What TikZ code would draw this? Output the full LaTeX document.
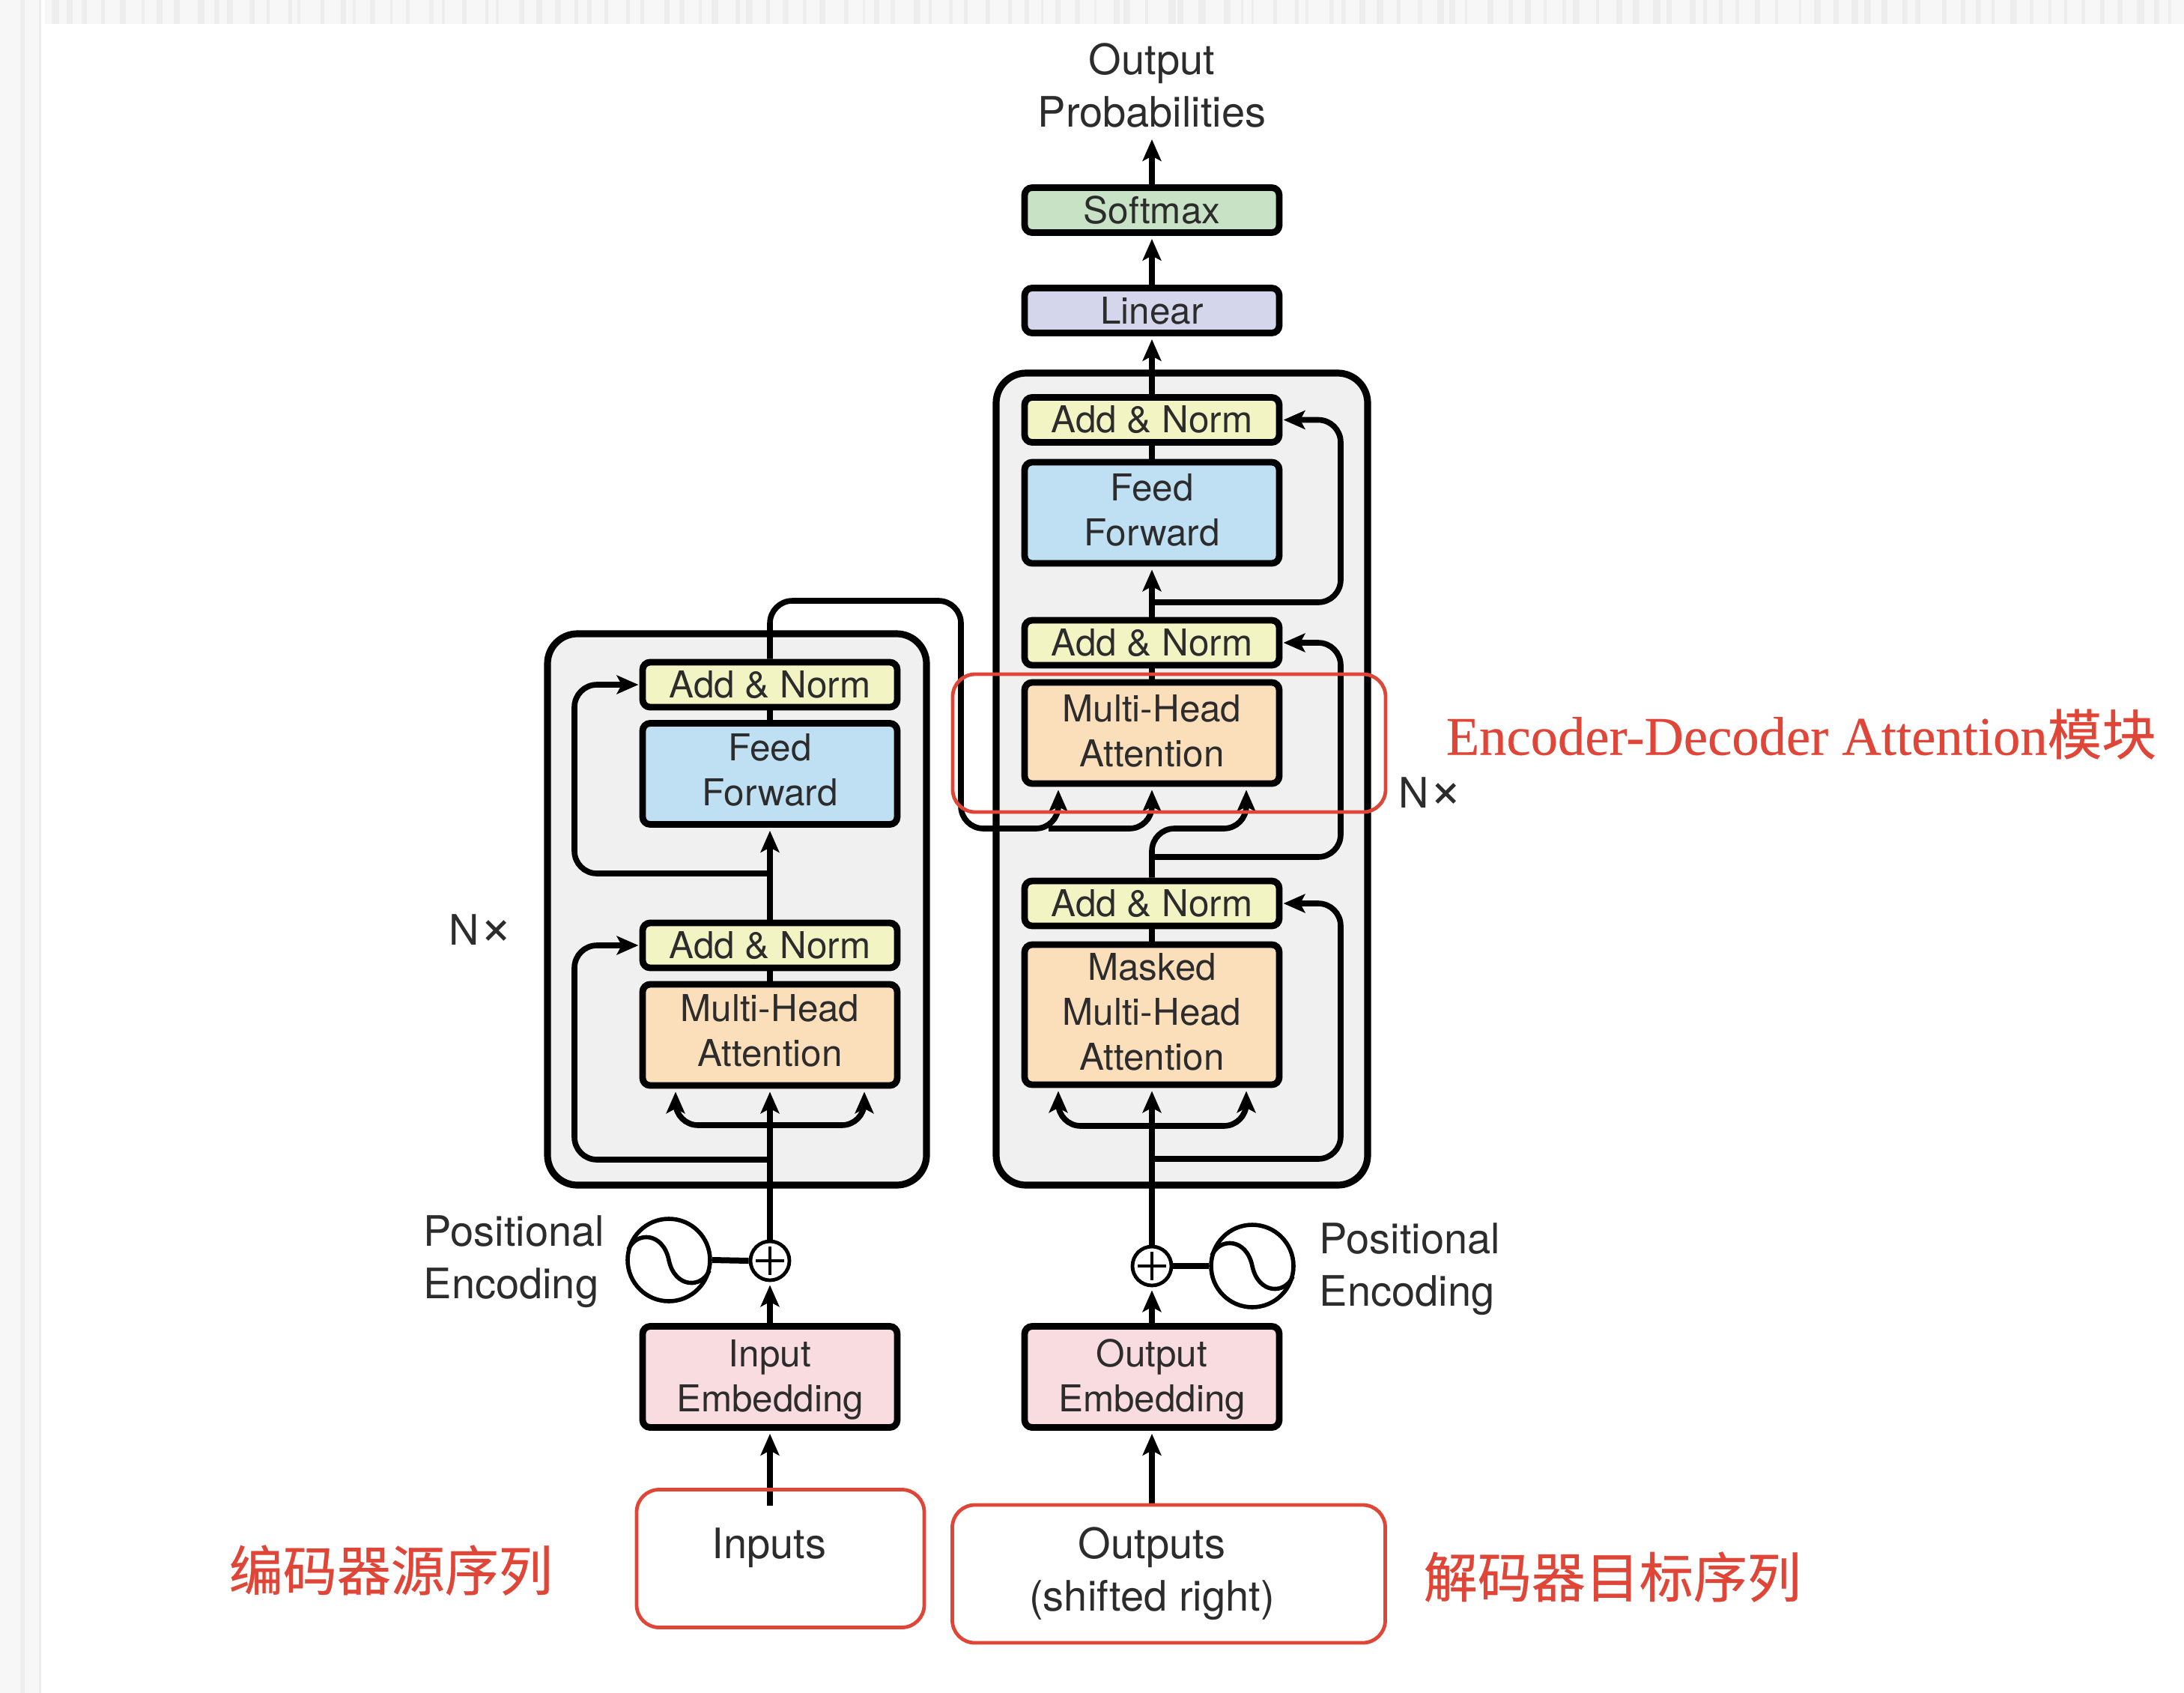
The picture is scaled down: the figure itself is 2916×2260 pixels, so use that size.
\documentclass[tikz,border=0pt]{standalone}
\usepackage{fontspec}
\setmainfont{TeX Gyre Heros}
\newfontfamily\cjkfam[RawFeature={embolden=0.5}]{Noto Sans CJK SC}
\newfontfamily\serfam[RawFeature={embolden=0.3}]{Liberation Serif}
\usetikzlibrary{arrows.meta,calc}
\definecolor{panelc}{HTML}{F0F0F0}
\definecolor{ycol}{HTML}{F3F4C3}
\definecolor{bcol}{HTML}{BFDFF3}
\definecolor{ocol}{HTML}{FBDFBB}
\definecolor{pcol}{HTML}{F8DCDF}
\definecolor{gcol}{HTML}{C8E2C6}
\definecolor{lcol}{HTML}{D4D6EC}
\definecolor{redc}{HTML}{DF4638}
\definecolor{txtc}{HTML}{2C2C2C}
\tikzset{
  blockbox/.style={draw=black,line width=2.2pt,rounded corners=2.5pt,minimum width=85pt,inner sep=0pt,align=center,text=txtc,font=\fontsize{12.35}{15}\selectfont},
  thin box/.style={blockbox,minimum height=15pt},
  tall box/.style={blockbox,minimum height=33.75pt},
  panel/.style={draw=black,line width=2.3pt,fill=panelc,rounded corners=10pt,inner sep=0pt},
  conn/.style={draw=black,line width=1.9pt},
  arrowc/.style={conn,-{Stealth[length=7.2pt,width=6.2pt,inset=1.6pt]},shorten >=1pt},
  curvedc/.style={arrowc,rounded corners=7.5pt},
  sidec/.style={curvedc,shorten >=0.3pt},
  plusnode/.style={circle,draw=black,line width=1.2pt,fill=white,minimum size=13pt,inner sep=0pt},
  sinenode/.style={circle,draw=black,line width=1.4pt,fill=white,minimum size=27.5pt,inner sep=0pt},
  redbox/.style={draw=redc,line width=1.2pt,rounded corners=7.5pt,inner sep=0pt},
  lab/.style={text=txtc,font=\fontsize{14}{17.5}\selectfont,align=center,inner sep=0pt},
  labl/.style={lab,align=left,anchor=west},
  redlab/.style={text=redc,inner sep=0pt,font=\fontsize{18}{22}\selectfont},
  stripbase/.style={fill=black!3,draw=none},
  stripline/.style={fill=black!7,draw=none},
}
\newcommand{\sinecurve}[1]{\begin{scope}[shift={(#1)}]\draw[line width=1.4pt] (-54,-14) .. controls (-44,-38) and (-8,-38) .. (0,0) .. controls (8,38) and (44,38) .. (54,14);\end{scope}}
\newcommand{\pluscross}[1]{\draw[line width=1.1pt] (#1) ++(-19,0) -- ++(38,0) (#1) ++(0,-19) -- ++(0,38);}
\newcommand{\upby}[1]{\rule[-#1]{0pt}{#1}}
\newcommand{\nxmark}{N{\fontsize{19}{17.5}\selectfont ×}}
\begin{document}
\begin{tikzpicture}[x=0.25pt,y=-0.25pt]
\useasboundingbox (0,0) rectangle (2916,2260);
% background strips
\pgfmathsetseed{11}
\fill[stripbase] (60,0) rectangle (2916,32);
\fill[stripbase] (0,0) rectangle (55,2260);
\foreach \i in {0,...,118}{
  \pgfmathsetmacro{\xa}{60+\i*24+rnd*14}
  \pgfmathsetmacro{\xb}{\xa+3+rnd*7}
  \fill[stripline] (\xa,0) rectangle (\xb,32);
}
\fill[stripline] (27,0) rectangle (33,2260);
\fill[stripline] (52,0) rectangle (55,2260);
% panels
\node[panel,minimum width=126.5pt,minimum height=184pt] (enc) at (984,1214) {};
\node[panel,minimum width=124pt,minimum height=271pt] (dec) at (1578,1040) {};
% encoder blocks
\node[tall box,fill=pcol] (eemb) at (1028,1838) {\rule{0pt}{11pt}Input\\Embedding};
\node[tall box,fill=ocol] (emha) at (1028,1381.5) {Multi-Head\\Attention\upby{2.8pt}};
\node[thin box,fill=ycol] (ean1) at (1028,1262) {Add \& Norm};
\node[tall box,fill=bcol] (eff) at (1028,1033) {Feed\\Forward\upby{2.8pt}};
\node[thin box,fill=ycol] (ean2) at (1028,914) {Add \& Norm};
% decoder blocks
\node[tall box,fill=pcol] (demb) at (1538,1838) {\rule{0pt}{11pt}Output\\Embedding};
\node[blockbox,minimum height=46.75pt,fill=ocol] (dmsk) at (1538,1354.5) {Masked\\Multi-Head\\Attention\upby{1.9pt}};
\node[thin box,fill=ycol] (dan3) at (1538,1206) {Add \& Norm};
\node[tall box,fill=ocol] (dmha) at (1538,978.5) {Multi-Head\\Attention\upby{1.4pt}};
\node[thin box,fill=ycol] (dan2) at (1538,858) {Add \& Norm};
\node[tall box,fill=bcol] (dff) at (1538,684.5) {Feed\\Forward\upby{1.9pt}};
\node[thin box,fill=ycol] (dan1) at (1538,560.5) {Add \& Norm};
\node[thin box,fill=lcol] (lin) at (1538,414.5) {Linear};
\node[thin box,fill=gcol] (soft) at (1538,280.5) {Softmax};
% plus and sine
\node[plusnode] (eplus) at (1028,1683) {};
\node[plusnode] (dplus) at (1538,1690) {};
\node[sinenode] (epe) at (893,1682) {};
\node[sinenode] (dpe) at (1672,1690) {};
% free ends
\coordinate (inS) at (1028,2010);
\coordinate (outS) at (1538,2009);
\coordinate (outT) at (1538,182);
\coordinate (eqj) at (1028,1502);
\coordinate (eql) at (902,1400);
\coordinate (eqr) at (1154,1400);
\coordinate (ej1) at (1028,1548);
\coordinate (ej2) at (1028,1166);
\coordinate (eskip) at (767,1350);
\coordinate (eskipb) at (767,1050);
\coordinate (dqj) at (1538,1503);
\coordinate (dql) at (1413,1400);
\coordinate (dqr) at (1664,1400);
\coordinate (dj1) at (1538,1547);
\coordinate (dj2) at (1538,1144);
\coordinate (dj3) at (1538,804);
\coordinate (dskip1) at (1790,1400);
\coordinate (dskip2) at (1790,1000);
\coordinate (dskip3) at (1790,700);
\coordinate (xtr) at (1283,802);
\coordinate (xbr) at (1283,1106);
\coordinate (xmid) at (1400,1106);
\coordinate (xup) at (1600,1106);
% encoder connectors
\draw[arrowc] (inS) -- (eemb.south);
\draw[arrowc] (eemb.north) -- (eplus.south);
\draw[arrowc] (eplus.north) -- (emha.south);
\draw[conn] (emha.north) -- (ean1.south);
\draw[arrowc] (ean1.north) -- (eff.south);
\draw[conn] (eff.north) -- (ean2.south);
\draw[curvedc] (eqj) -| (emha.south -| eql);
\draw[curvedc] (eqj) -| (emha.south -| eqr);
\draw[sidec] (ej1) -| (eskip) |- (ean1.west);
\draw[sidec] (ej2) -| (eskipb) |- (ean2.west);
\draw[line width=2pt] (epe.east) -- (eplus.west);
% decoder connectors
\draw[arrowc] (outS) -- (demb.south);
\draw[arrowc] (demb.north) -- (dplus.south);
\draw[arrowc] (dplus.north) -- (dmsk.south);
\draw[conn] (dmsk.north) -- (dan3.south);
\draw[conn] (dmha.north) -- (dan2.south);
\draw[arrowc] (dan2.north) -- (dff.south);
\draw[conn] (dff.north) -- (dan1.south);
\draw[arrowc] (dan1.north) -- (lin.south);
\draw[arrowc] (lin.north) -- (soft.south);
\draw[arrowc] (soft.north) -- (outT);
\draw[curvedc] (dqj) -| (dmsk.south -| dql);
\draw[curvedc] (dqj) -| (dmsk.south -| dqr);
\draw[sidec] (dj1) -| (dskip1) |- (dan3.east);
\draw[sidec] (dj2) -| (dskip2) |- (dan2.east);
\draw[sidec] (dj3) -| (dskip3) |- (dan1.east);
\draw[curvedc] (dan3.north) |- (xup) -| (dmha.south -| dqr);
\draw[curvedc] (ean2.north) |- (xtr) -- (xbr) -| (dmha.south -| dql);
\draw[curvedc] (xmid) -| (dmha.south);
\draw[line width=2pt] (dpe.west) -- (dplus.east);
% symbols
\pluscross{eplus.center}
\pluscross{dplus.center}
\sinecurve{epe.center}
\sinecurve{dpe.center}
% labels
\node[lab] (outp) at (1538,114) {Output\\Probabilities};
\node[lab] (nl) at (642,1241) {\nxmark};
\node[lab] (nr) at (1910,1058) {\nxmark};
\node[labl] (pel) at (565,1684) {Positional\\Encoding};
\node[labl] (per) at (1761,1694) {Positional\\Encoding};
\node[lab] (inp) at (1027,2066) {Inputs};
\node[lab] (oup) at (1538,2101) {Outputs\\(shifted right)};
% red annotations
\node[redbox,minimum width=96pt,minimum height=46pt] (rinp) at (1042,2080.5) {};
\node[redbox,minimum width=144.5pt,minimum height=46pt] (roup) at (1560.5,2101) {};
\node[redbox,minimum width=144.5pt,minimum height=46pt] (rmha) at (1561,992) {};
\node[redlab,anchor=west] (tatt) at (1930,980) {\fontsize{18.15}{22}\selectfont\serfam Encoder-Decoder Attention\cjkfam 模块};
\node[redlab,anchor=west] (tsrc) at (305,2096) {\cjkfam 编码器源序列};
\node[redlab,anchor=west] (ttgt) at (1900,2105) {\cjkfam 解码器目标序列};
\end{tikzpicture}
\end{document}
